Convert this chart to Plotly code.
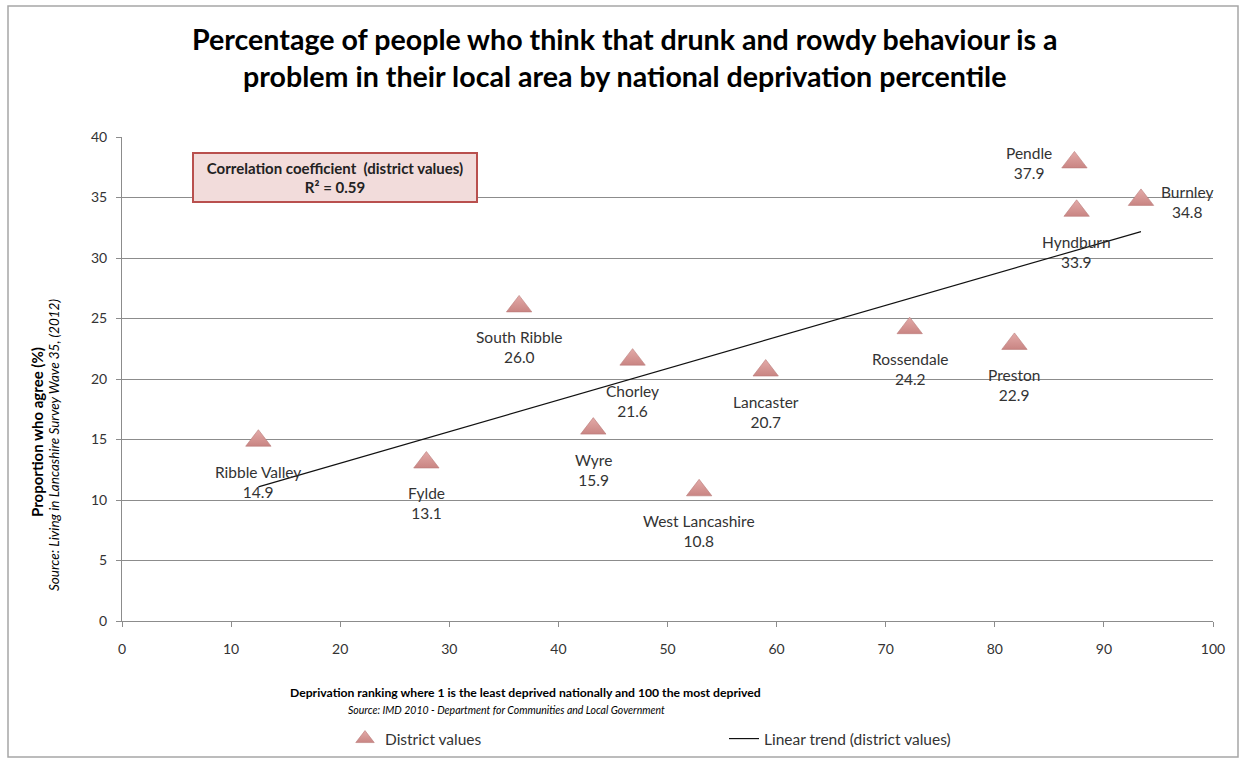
import numpy as np
import plotly.graph_objects as go

# ---- data ----
districts = ["Ribble Valley", "Fylde", "South Ribble", "Wyre", "Chorley", "West Lancashire",
             "Lancaster", "Rossendale", "Preston", "Pendle", "Hyndburn", "Burnley"]
deprivation = [12.5, 27.9, 36.4, 43.2, 46.8, 52.9, 59.0, 72.2, 81.8, 87.3, 87.5, 93.4]
agree_pct = [14.9, 13.1, 26.0, 15.9, 21.6, 10.8, 20.7, 24.2, 22.9, 37.9, 33.9, 34.8]
x_ticks = [0, 10, 20, 30, 40, 50, 60, 70, 80, 90, 100]
y_ticks = [0, 5, 10, 15, 20, 25, 30, 35, 40]

# label placement offsets (px) per district: default below
label_offsets = {"Pendle": (-45, -1), "Burnley": (46, -2)}

FONT = "Lato, Calibri, 'Liberation Sans', sans-serif"
TXT = "#333333"
GRID = "#8c8c8c"

W, H = 1243, 759
L, R, T, B = 122, 30, 137, 138
PW, PH = W - L - R, H - T - B


def px_x(px):
    return (px - L) / PW


def px_y(py):
    return (H - B - py) / PH


# linear trend from data
slope, intercept = np.polyfit(deprivation, agree_pct, 1)
tx = np.array([min(deprivation), max(deprivation)])
ty = slope * tx + intercept

fig = go.Figure()
fig.add_trace(go.Scatter(
    x=deprivation, y=agree_pct, mode="markers", name="District values",
    marker=dict(symbol="triangle-up", size=22, color="#e3aaa8",
                gradient=dict(type="vertical", color="#c98583"),
                line=dict(color="#b87a78", width=0.6)),
    legend="legend",
))
fig.add_trace(go.Scatter(
    x=tx, y=ty, mode="lines", name="Linear trend (district values)",
    line=dict(color="#111111", width=1.2),
    legend="legend2",
))

annotations = []
for name, xv, yv in zip(districts, deprivation, agree_pct):
    dx, dy = label_offsets.get(name, (0, -41))
    annotations.append(dict(
        x=xv, y=yv, xref="x", yref="y", text=f"{name}<br>{yv:.1f}", showarrow=False,
        xshift=dx, yshift=dy, xanchor="center", yanchor="middle",
        font=dict(family=FONT, size=15.5, color=TXT),
    ))

# title
annotations.append(dict(
    x=px_x(624), y=px_y(57), xref="paper", yref="paper", showarrow=False,
    xanchor="center", yanchor="middle",
    text="<b>Percentage of people who think that drunk and rowdy behaviour is a<br>"
         "problem in their local area by national deprivation percentile</b>",
    font=dict(family=FONT, size=28.6, color="#000000"),
))
# correlation box
annotations.append(dict(
    x=px_x(335), y=px_y(177.5), xref="paper", yref="paper", showarrow=False,
    xanchor="center", yanchor="middle",
    text="<b>Correlation coefficient  (district values)<br>R² = 0.59</b>",
    font=dict(family=FONT, size=15, color="#222222"),
    bgcolor="#f2dcdb", bordercolor="#b9504e", borderwidth=2, borderpad=1,
    width=280, height=45,
))
# x axis title + source
annotations.append(dict(
    x=px_x(525), y=px_y(692), xref="paper", yref="paper", showarrow=False,
    xanchor="center", yanchor="middle",
    text="<b>Deprivation ranking where 1 is the least deprived nationally and 100 the most deprived</b>",
    font=dict(family=FONT, size=12.2, color="#000000"),
))
annotations.append(dict(
    x=px_x(506), y=px_y(710), xref="paper", yref="paper", showarrow=False,
    xanchor="center", yanchor="middle",
    text="<i>Source: IMD 2010 - Department for Communities and Local Government</i>",
    font=dict(family=FONT, size=10.5, color="#000000"),
))
# y axis title + source
annotations.append(dict(
    x=px_x(37), y=px_y(432), xref="paper", yref="paper", showarrow=False,
    xanchor="center", yanchor="middle", textangle=-90,
    text="<b>Proportion who agree (%)</b>",
    font=dict(family=FONT, size=15, color="#000000"),
))
annotations.append(dict(
    x=px_x(54), y=px_y(445), xref="paper", yref="paper", showarrow=False,
    xanchor="center", yanchor="middle", textangle=-90,
    text="<i>Source: Living in Lancashire Survey Wave 35, (2012)</i>",
    font=dict(family=FONT, size=13.5, color="#000000"),
))

shapes = [dict(
    type="rect", xref="paper", yref="paper",
    x0=px_x(8), x1=px_x(1238), y0=px_y(757), y1=px_y(6),
    line=dict(color="#a6a6a6", width=1.5), fillcolor="rgba(0,0,0,0)", layer="below",
)]

legend_common = dict(orientation="h", xanchor="left", yref="container",
                     y=(H - 739) / H, yanchor="middle",
                     font=dict(family=FONT, size=15.5, color=TXT),
                     bgcolor="rgba(0,0,0,0)")

fig.update_layout(
    width=W, height=H,
    margin=dict(l=L, r=R, t=T, b=B),
    paper_bgcolor="white", plot_bgcolor="white",
    font=dict(family=FONT, size=14, color=TXT),
    showlegend=True,
    legend=dict(x=px_x(345), **legend_common),
    legend2=dict(x=px_x(724), **legend_common),
    annotations=annotations,
    shapes=shapes,
    xaxis=dict(range=[0, 100], tickvals=x_ticks, showgrid=False, zeroline=False,
               showline=True, linecolor=GRID, linewidth=1,
               ticks="outside", ticklen=5, tickcolor=GRID, ticklabelstandoff=10,
               tickfont=dict(family=FONT, size=14, color=TXT)),
    yaxis=dict(range=[0, 40], tickvals=y_ticks, showgrid=True, gridcolor=GRID, gridwidth=1,
               zeroline=False, showline=True, linecolor=GRID, linewidth=1,
               ticks="outside", ticklen=5, tickcolor=GRID, ticklabelstandoff=6,
               tickfont=dict(family=FONT, size=14, color=TXT)),
)

fig.write_html("out.html")
